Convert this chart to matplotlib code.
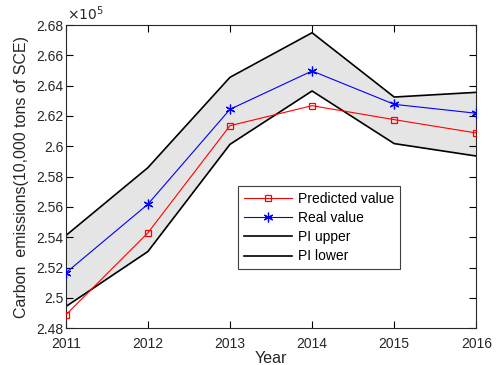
import matplotlib
matplotlib.use("Agg")
import matplotlib.pyplot as plt
from matplotlib.ticker import FuncFormatter

plt.rcParams['font.family'] = ['Liberation Sans', 'DejaVu Sans']

years = [2011, 2012, 2013, 2014, 2015, 2016]
predicted = [248880, 254290, 261360, 262680, 261760, 260880]
real = [251650, 256180, 262440, 264970, 262770, 262180]
pi_upper = [254110, 258590, 264550, 267490, 263250, 263560]
pi_lower = [249430, 253060, 260130, 263650, 260180, 259360]

y_ticks = [248000 + 2000 * i for i in range(11)]

fig = plt.figure(figsize=(4.96, 3.65), dpi=100)
ax = fig.add_axes([0.1325, 0.1005, 0.8278, 0.831])

ax.fill_between(years, pi_lower, pi_upper, color='#e5e5e5', linewidth=0, zorder=1)
ax.plot(years, predicted, color='red', lw=0.8, marker='s', ms=5, mfc='none',
        mec='red', mew=0.9, label='Predicted value', zorder=3)
ax.plot(years, real, color='blue', lw=0.8, marker=(6, 2, 0), ms=7,
        mec='blue', mew=0.9, label='Real value', zorder=3)
ax.plot(years, pi_upper, color='black', lw=1.2, label='PI upper', zorder=2)
ax.plot(years, pi_lower, color='black', lw=1.2, label='PI lower', zorder=2)

ax.set_xlim(2011, 2016)
ax.set_ylim(248000, 268000)
ax.set_xticks(years)
ax.set_yticks(y_ticks)
ax.yaxis.set_major_formatter(FuncFormatter(lambda v, p: f'{v / 1e5:g}'))

ax.tick_params(direction='in', top=True, right=True, length=5, width=0.8,
               labelsize=10, labelcolor='#262626')
ax.tick_params(axis='x', pad=6)
ax.tick_params(axis='y', pad=1.5)
for s in ax.spines.values():
    s.set_linewidth(0.8)
    s.set_color('#262626')

ax.text(0.003, 1.005, r'$\times 10^5$', transform=ax.transAxes, fontsize=10,
        color='#262626', ha='left', va='bottom')

ax.set_xlabel('Year', fontsize=11.5, color='#262626', labelpad=0.5)
ax.set_ylabel('Carbon  emissions(10,000 tons of SCE)', fontsize=11.5,
              color='#262626', labelpad=5)

leg = ax.legend(loc='upper left', bbox_to_anchor=(0.419, 0.470), borderaxespad=0,
                fontsize=10, handlelength=3.5, handletextpad=0.4, labelspacing=0.38,
                borderpad=0.42, fancybox=False, framealpha=1, edgecolor='#404040')
leg.get_frame().set_linewidth(0.8)

fig.savefig('out.png', dpi=100)
